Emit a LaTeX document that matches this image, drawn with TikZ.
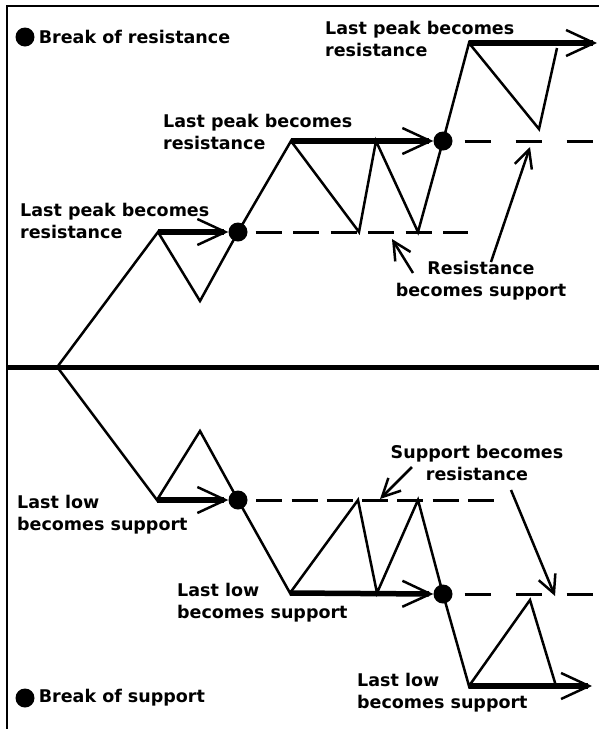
\documentclass[tikz,border=0pt]{standalone}
\usepackage{fontspec}
\setmainfont{DejaVu Sans}
\usetikzlibrary{arrows.meta,positioning}

\tikzset{
	price/.style={line width=2.5pt},
	level/.style={line width=5.5pt,-{Straight Barb[length=28pt,width=26pt,line width=0pt 0.45]}},
	dashline/.style={line width=3pt},
	note/.style={line width=2.5pt,-{Straight Barb[length=18pt,width=18pt]}},
	brk/.style={circle,fill,inner sep=0pt,minimum size=19pt},
	lbl/.style={font=\fontsize{17.5}{21.5}\selectfont\bfseries,align=left,anchor=base west,inner sep=0pt},
}

\begin{document}
\begin{tikzpicture}[x=1pt,y=-1pt]
	\useasboundingbox (0,0) rectangle (599,729);
	\draw[line width=1.8pt] (7,729) -- (7,6) -- (599,6); % Frame.
	\draw[line width=5pt] (7,367) -- (599,367);

	% Upper half: break of resistance.
	\coordinate (u0) at (58,366);
	\coordinate (u1) at (158,232);
	\coordinate (u2) at (200,301);
	\coordinate (u3) at (291,141);
	\coordinate (u4) at (359,232);
	\coordinate (u5) at (376,141);
	\coordinate (u6) at (418,232);
	\coordinate (u7) at (469,43);
	\coordinate (u8) at (539,129);
	\coordinate (u9) at (557,48);
	\coordinate (a1) at (597,43);
	\coordinate (e1) at (468,232);
	\coordinate (e2) at (594,141);
	\node[brk] (b1) at (238,232) {};
	\node[brk] (b2) at (443,141) {};

	\draw[price] (u0) -- (u1) -- (u2) -- (b1.center) -- (u3) -- (u4) -- (u5) -- (u6) -- (b2.center) -- (u7) -- (u8) -- (u9);
	\draw[level] (u1) -- (b1.west);
	\draw[level] (u3) -- (b2.west);
	\draw[level] (u7) -- (a1);
	\draw[dashline,dash pattern=on 26pt off 11.5pt,shorten <=8pt] (b1.east) -- (e1);
	\draw[dashline,dash pattern=on 26.5pt off 24.5pt,shorten <=12pt] (b2.east) -- (e2);

	\node[brk] (k1) at (25,37) {};
	\node[lbl,right=4pt of k1] (k1t) {Break of resistance};
	\node[lbl] (t1) at (20,238) {Last peak becomes\\resistance};
	\node[lbl] (t2) at (163,149) {Last peak becomes\\resistance};
	\node[lbl] (t3) at (325,56) {Last peak becomes\\resistance};
	\node[lbl,align=center,anchor=base] (t4) at (481,296) {Resistance\\becomes support};

	\coordinate (r1s) at (413,273);
	\coordinate (r1) at (392,239);
	\coordinate (r2s) at (491,262);
	\coordinate (r2) at (530,147);
	\draw[note] (r1s) -- (r1);
	\draw[note] (r2s) -- (r2);

	% Lower half: break of support.
	\coordinate (d0) at (58,368);
	\coordinate (d1) at (157,500);
	\coordinate (d2) at (200,431);
	\coordinate (d3) at (290,593);
	\coordinate (d4) at (358,500);
	\coordinate (d5) at (377,593);
	\coordinate (d6) at (418,500);
	\coordinate (d7) at (469,686);
	\coordinate (d8) at (530,600);
	\coordinate (d9) at (556,686);
	\coordinate (a2) at (592,686);
	\coordinate (e3) at (494,500);
	\coordinate (e4) at (595,594);
	\node[brk] (b3) at (238,500) {};
	\node[brk] (b4) at (443,594) {};

	\draw[price] (d0) -- (d1) -- (d2) -- (b3.center) -- (d3) -- (d4) -- (d5) -- (d6) -- (b4.center) -- (d7) -- (d8) -- (d9);
	\draw[level] (d1) -- (b3.west);
	\draw[level] (d3) -- (b4.west);
	\draw[level] (d7) -- (a2);
	\draw[dashline,dash pattern=on 26pt off 9.3pt,shorten <=8.5pt] (b3.east) -- (e3);
	\draw[dashline,dash pattern=on 26.5pt off 24.5pt,shorten <=12pt] (b4.east) -- (e4);

	\node[brk] (k2) at (25,698) {};
	\node[lbl,right=4pt of k2] (k2t) {Break of support};
	\node[lbl] (t6) at (17,530) {Last low\\becomes support};
	\node[lbl] (t7) at (177,618) {Last low\\becomes support};
	\node[lbl] (t8) at (357,708) {Last low\\becomes support};
	\node[lbl,align=center,anchor=base] (t5) at (477,480) {Support becomes\\resistance};

	\coordinate (s1s) at (412,467);
	\coordinate (s1) at (380,499);
	\coordinate (s2s) at (511,490);
	\coordinate (s2) at (555,596);
	\draw[note] (s1s) -- (s1);
	\draw[note] (s2s) -- (s2);
\end{tikzpicture}
\end{document}
